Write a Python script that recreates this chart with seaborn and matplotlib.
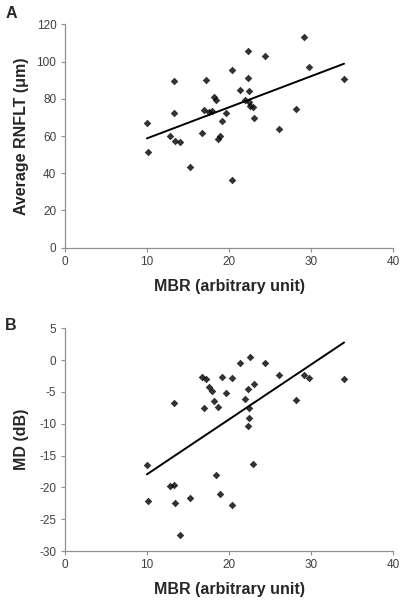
import seaborn as sns
import matplotlib.pyplot as plt
import pandas as pd

# MBR values shared by both panels (same eyes)
mbr = [10.0, 10.1, 13.3, 13.3, 12.8, 13.4, 14.0, 15.3, 16.7, 17.0, 17.2, 17.6,
       17.9, 18.2, 18.4, 18.6, 18.9, 19.1, 19.6, 20.4, 20.4, 21.3, 22.0, 22.3,
       22.3, 22.4, 22.4, 22.6, 22.9, 23.1, 24.4, 26.1, 28.2, 29.1, 29.7, 34.0]
rnflt = [67.2, 51.2, 89.4, 72.5, 60.0, 57.3, 56.8, 43.5, 61.4, 74.0, 89.9, 72.9,
         73.6, 80.8, 79.2, 58.6, 59.8, 67.9, 72.4, 95.3, 36.4, 84.5, 79.2, 105.7,
         91.3, 84.4, 78.5, 76.1, 75.4, 69.5, 103.0, 63.8, 74.7, 113.4, 97.1, 90.6]
md = [-16.5, -22.1, -6.7, -19.7, -19.8, -22.4, -27.5, -21.7, -2.6, -7.6, -3.0, -4.3,
      -4.9, -6.4, -18.1, -7.4, -21.0, -2.7, -5.2, -2.8, -22.7, -0.4, -6.1, -4.5,
      -10.3, -9.1, -7.5, 0.4, -16.4, -3.8, -0.5, -2.4, -6.2, -2.4, -2.8, -3.0]

df = pd.DataFrame({"mbr": mbr, "rnflt": rnflt, "md": md})

sns.set_style("ticks")
plt.rcParams["font.family"] = ["Liberation Sans", "DejaVu Sans"]
plt.rcParams["axes.unicode_minus"] = False

fig = plt.figure(figsize=(4.05, 6.02), dpi=100)
ax_a = fig.add_axes([0.1598, 0.5885, 0.8114, 0.3711])
ax_b = fig.add_axes([0.1598, 0.0847, 0.8114, 0.3701])

panels = [
    (ax_a, "rnflt", "Average RNFLT (\u03bcm)", (0, 120), range(0, 121, 20), "A", 1.027),
    (ax_b, "md", "MD (dB)", (-30, 5), range(-30, 6, 5), "B", 0.992),
]

for ax, col, ylab, ylim, yticks, letter, ly in panels:
    sns.regplot(data=df, x="mbr", y=col, ax=ax, ci=None, color="black",
                marker="D", scatter_kws={"s": 15, "linewidths": 0},
                line_kws={"lw": 1.4})
    ax.set_xlim(0, 40)
    ax.set_ylim(*ylim)
    ax.set_xticks(range(0, 41, 10))
    ax.set_yticks(list(yticks))
    ax.set_xlabel("MBR (arbitrary unit)", fontsize=11.5, fontweight="bold", labelpad=8)
    ax.set_ylabel(ylab, fontsize=11.5, fontweight="bold")
    ax.yaxis.set_label_coords(-0.108, 0.5)
    for s in ["top", "right"]:
        ax.spines[s].set_visible(False)
    for s in ["left", "bottom"]:
        ax.spines[s].set_color("#909090")
        ax.spines[s].set_linewidth(0.9)
    ax.tick_params(labelsize=8.5, colors="#909090", labelcolor="#404040",
                   length=3, width=0.8, pad=3)
    ax.text(-0.163, ly, letter, transform=ax.transAxes, fontsize=11.5,
            fontweight="bold", ha="center", va="baseline")

fig.savefig("out.png", dpi=100)
